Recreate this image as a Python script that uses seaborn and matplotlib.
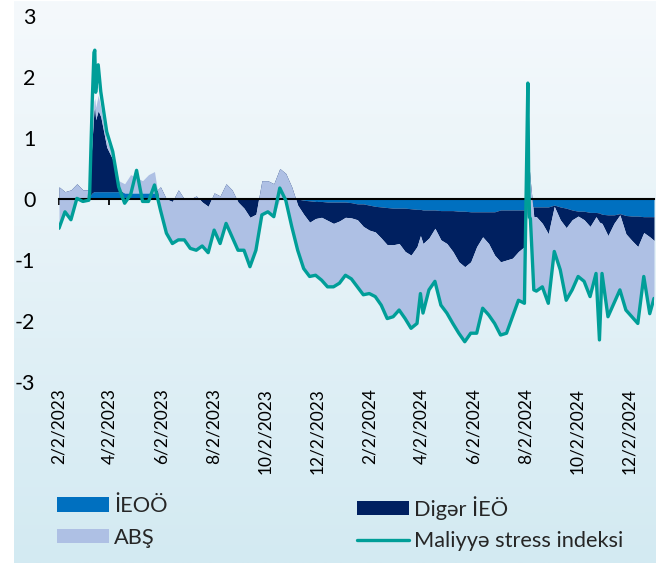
import numpy as np
import pandas as pd
import matplotlib
matplotlib.use("Agg")
import matplotlib.pyplot as plt
import matplotlib.dates as mdates
from matplotlib.patches import Patch
from matplotlib.lines import Line2D
from matplotlib.colors import LinearSegmentedColormap
import seaborn as sns

sns.set_theme(style="white")
plt.rcParams['font.family'] = ['Lato', 'DejaVu Sans']
plt.rcParams['axes.unicode_minus'] = False

# ---------------- data ----------------
weekly_start = "2023-02-02"   # weekly observations (every 7 days)

weekly_ieoo = [
    0, 0, 0, 0, 0, 0.02, 0.12, 0.12, 0.12, 0.12, 0.12,
    0.1, 0.1, 0.1, 0.1, 0.1, 0.1,
    0, 0, 0, 0, 0, 0, 0, 0, 0, 0, 0, 0, 0, 0, 0, 0, 0, 0, 0, 0, 0, 0, 0, 0,
    -0.02, -0.03, -0.04, -0.04, -0.05, -0.05, -0.05, -0.05, -0.06, -0.08,
    -0.08, -0.1, -0.12, -0.13, -0.14, -0.15, -0.15, -0.15, -0.16, -0.17,
    -0.18, -0.18, -0.18, -0.19, -0.19, -0.19, -0.2, -0.2, -0.21, -0.21,
    -0.21, -0.21, -0.21, -0.18, -0.18, -0.18, -0.18, -0.18, -0.12, -0.13,
    -0.13, -0.13, -0.1, -0.13, -0.15, -0.18, -0.2, -0.2, -0.22, -0.22,
    -0.25, -0.26, -0.26, -0.24, -0.27, -0.28, -0.28, -0.29, -0.29,
]
weekly_diger = [
    0.2, 0.12, 0.15, 0.25, 0.15, 0.13, 1.38, 1.23, 0.73, 0.53, 0.03,
    0, 0, 0, 0, 0, 0,
    0.2, 0, -0.04, 0.15, 0, 0, 0.05, -0.05, -0.12, 0.1, 0.05, 0.25, 0.15,
    -0.05, -0.15, -0.3, -0.25, 0.3, 0.3, 0.25, 0.5, 0.42, 0.2, -0.1,
    -0.23, -0.35, -0.28, -0.26, -0.3, -0.35, -0.31, -0.25, -0.25, -0.26,
    -0.37, -0.41, -0.42, -0.51, -0.61, -0.6, -0.58, -0.71, -0.76, -0.61,
    -0.55, -0.46, -0.3, -0.48, -0.54, -0.67, -0.83, -0.91, -0.82, -0.57,
    -0.41, -0.52, -0.71, -0.85, -0.82, -0.79, -0.68, -0.6, 0.4, -0.16,
    -0.27, -0.44, -0.02, -0.21, -0.32, -0.16, -0.08, -0.14, -0.23, -0.07,
    -0.15, -0.34, -0.14, -0.02, -0.3, -0.4, -0.5, -0.26, -0.33,
]
weekly_abs = [
    -0.68, -0.33, -0.49, -0.25, -0.19, -0.17, 0.15, 0.15, 0.1, 0.1, 0.15,
    0.15, 0.3, 0.25, 0.2, 0.3, 0.35,
    -0.38, -0.56, -0.69, -0.82, -0.67, -0.81, -0.89, -0.72, -0.76, -0.61,
    -0.78, -0.65, -0.77, -0.79, -0.69, -0.81, -0.59, -0.56, -0.51, -0.54,
    -0.5, -0.44, -0.65, -0.74,
    -0.89, -0.89, -0.93, -1.03, -1.09, -1.04, -1.02, -0.95, -1.0, -1.1,
    -1.12, -1.04, -1.06, -1.1, -1.21, -1.18, -1.09, -1.1, -1.2, -1.26,
    -1.14, -0.85, -0.87, -1.07, -1.14, -1.18, -1.17, -1.23, -1.17, -1.42,
    -1.17, -1.17, -1.12, -1.2, -1.2, -0.96, -0.8, -0.93, -0.6, -1.22,
    -1.04, -1.14, -0.74, -0.82, -1.19, -1.15, -0.99, -1.01, -1.15, -0.93,
    -0.82, -1.33, -1.31, -1.23, -1.25, -1.25, -1.26, -0.72, -1.26,
]
weekly_index = [
    -0.48, -0.21, -0.34, 0.01, -0.04, -0.02, 2.44, 1.76, 1.1, 0.78, 0.2,
    -0.07, 0.07, 0.47, -0.04, -0.04, 0.23,
    -0.18, -0.56, -0.73, -0.67, -0.67, -0.81, -0.84, -0.77, -0.88, -0.51,
    -0.73, -0.4, -0.62, -0.84, -0.84, -1.11, -0.84, -0.26, -0.21, -0.29,
    0.18, -0.02, -0.45, -0.84,
    -1.14, -1.27, -1.25, -1.33, -1.44, -1.44, -1.38, -1.25, -1.31, -1.44,
    -1.57, -1.55, -1.6, -1.74, -1.96, -1.93, -1.82, -1.96, -2.12, -2.04,
    -1.87, -1.49, -1.35, -1.74, -1.87, -2.04, -2.2, -2.34, -2.2, -2.2,
    -1.79, -1.9, -2.04, -2.23, -2.2, -1.93, -1.66, -1.71, -0.32, -1.51,
    -1.44, -1.71, -0.86, -1.16, -1.66, -1.49, -1.27, -1.35, -1.6, -1.22,
    -1.22, -1.93, -1.71, -1.49, -1.82, -1.93, -2.04, -1.27, -1.88,
]

# extra daily observations around sharp moves
extra_dates = ["2023-03-10", "2023-03-13", "2023-03-15", "2023-03-17",
               "2023-03-20", "2024-04-01", "2024-08-05", "2024-08-06",
               "2024-08-07", "2024-08-12", "2024-10-28", "2024-12-31"]
extra_ieoo = [0.05, 0.1, 0.12, 0.12, 0.12, -0.17, -0.05, -0.05, -0.1,
              -0.13, -0.23, -0.29]
extra_diger = [0.25, 0.9, 1.33, 1.18, 1.33, -0.43, 0.0, 0.45, 0.55,
               -0.16, -0.15, -0.39]
extra_abs = [0.1, 0.1, 0.15, 0.2, 0.25, -0.95, 0.55, -0.7, -0.75,
             -1.2, -1.93, -0.95]
extra_index = [0.1, 1.6, 2.4, 1.75, 2.2, -1.55, 1.9, 0.3, -0.3,
               -1.49, -2.31, -1.63]

tick_dates = ["2023-02-02", "2023-04-02", "2023-06-02", "2023-08-02",
              "2023-10-02", "2023-12-02", "2024-02-02", "2024-04-02",
              "2024-06-02", "2024-08-02", "2024-10-02", "2024-12-02"]
tick_labels = ["2/2/2023", "4/2/2023", "6/2/2023", "8/2/2023",
               "10/2/2023", "12/2/2023", "2/2/2024", "4/2/2024",
               "6/2/2024", "8/2/2024", "10/2/2024", "12/2/2024"]
y_ticks = [-3, -2, -1, 0, 1, 2, 3]

series_names = ["İEOÖ", "Digər İEÖ", "ABŞ", "Maliyyə stress indeksi"]
c_ieoo = "#0070C0"
c_diger = "#002060"
c_abs = "#AEC0E4"
c_line = "#009E98"

# ---------------- assemble ----------------
weekly = pd.DataFrame({
    "date": pd.date_range(weekly_start, periods=len(weekly_index), freq="7D"),
    "ieoo": weekly_ieoo, "diger": weekly_diger, "abs": weekly_abs,
    "index": weekly_index})
extra = pd.DataFrame({
    "date": pd.to_datetime(extra_dates), "ieoo": extra_ieoo,
    "diger": extra_diger, "abs": extra_abs, "index": extra_index})
df = pd.concat([weekly, extra]).sort_values("date").reset_index(drop=True)
df["x"] = mdates.date2num(df["date"])
c1 = df["ieoo"].to_numpy()
c2 = c1 + df["diger"].to_numpy()
c3 = c2 + df["abs"].to_numpy()
xs = df["x"].to_numpy()
tick_pos = mdates.date2num(pd.to_datetime(tick_dates))

# ---------------- figure ----------------
W, H = 656, 563
fig = plt.figure(figsize=(W / 100, H / 100), dpi=100)
fig.patch.set_facecolor("white")

bg = fig.add_axes([14 / W, 0, (W - 14) / W, (H - 1) / H], zorder=0)
grad = np.linspace(0, 1, 256).reshape(-1, 1)
cmap = LinearSegmentedColormap.from_list("bg", ["#F5F9FC", "#D3EAF2"])
bg.imshow(grad, aspect="auto", cmap=cmap, extent=[0, 1, 0, 1])
bg.set_axis_off()

ax = fig.add_axes([59 / W, 181 / H, 595 / W, 366 / H], zorder=1)
ax.set_facecolor("none")

ax.fill_between(xs, 0, c1, color=c_ieoo, lw=0, zorder=1.0)
ax.fill_between(xs, c1, c2, color=c_diger, lw=0, zorder=1.1)
ax.fill_between(xs, c2, c3, color=c_abs, lw=0, zorder=1.2)
sns.lineplot(data=df, x="x", y="index", color=c_line, lw=2.4, ax=ax,
             zorder=3, legend=False)

ax.set_xlim(xs.min(), xs.max())
ax.set_ylim(-3, 3)
ax.set_yticks(y_ticks)
ax.set_yticklabels([str(v) for v in y_ticks])
ax.set_xlabel("")
ax.set_ylabel("")
for s in ["left", "right", "top"]:
    ax.spines[s].set_visible(False)
ax.spines["bottom"].set_position(("data", 0))
ax.spines["bottom"].set_color("black")
ax.spines["bottom"].set_linewidth(1.5)
ax.spines["bottom"].set_zorder(2.5)
ax.set_xticks(tick_pos)
ax.tick_params(axis="x", bottom=True, direction="out", length=4, width=1.3,
               color="black", labelbottom=False)
ax.tick_params(axis="y", left=False, length=0, pad=17, labelsize=15.5,
               labelcolor="black")

sec = ax.secondary_xaxis("bottom")
sec.set_xticks(tick_pos)
sec.set_xticklabels(tick_labels)
sec.tick_params(axis="x", length=0, pad=4.5, labelsize=12.5,
                labelrotation=90, labelcolor="black")
sec.spines["bottom"].set_visible(False)

# ---------------- legend ----------------
h_ieoo = Patch(facecolor=c_ieoo, edgecolor="none")
h_diger = Patch(facecolor=c_diger, edgecolor="none")
h_abs = Patch(facecolor=c_abs, edgecolor="none")
h_line = Line2D([0], [0], color=c_line, lw=2.4)
leg_kw = dict(loc="upper left", frameon=False, fontsize=15.7,
              handlelength=2.38, handleheight=0.64, handletextpad=0.25,
              labelspacing=0.53, borderpad=0, borderaxespad=0)
leg1 = fig.legend([h_ieoo, h_abs], [series_names[0], series_names[2]],
                  bbox_to_anchor=(57 / W, 1 - 496 / H), **leg_kw)
leg2 = fig.legend([h_diger, h_line], [series_names[1], series_names[3]],
                  bbox_to_anchor=(357 / W, 1 - 496 / H), **leg_kw)

fig.savefig("out.png", dpi=100)
